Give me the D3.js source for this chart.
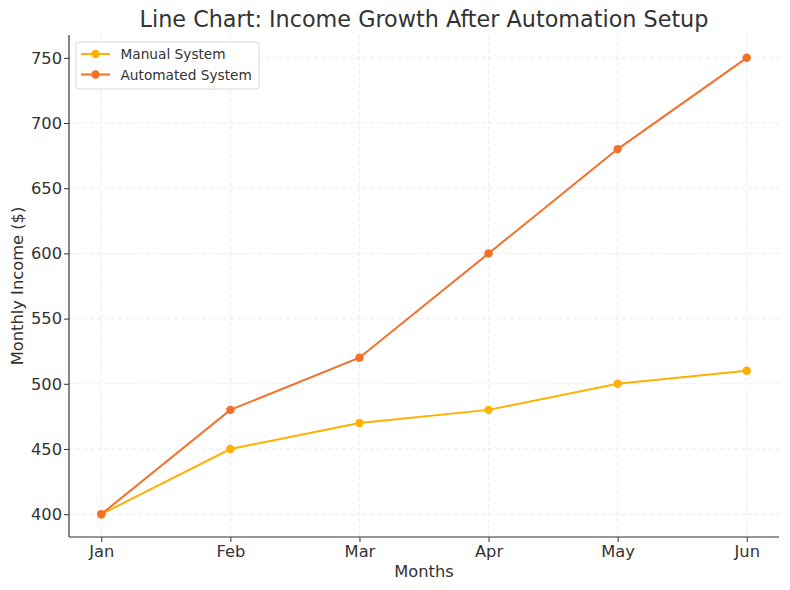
<!DOCTYPE html>
<html><head><meta charset="utf-8">
<script src="https://cdn.jsdelivr.net/npm/d3@7"></script>
<style>body{margin:0;background:#fff;} text{font-family:"DejaVu Sans",sans-serif;fill:#333;}</style>
</head><body>
<svg id="c" width="790" height="590"></svg>
<script>
const months = ["Jan","Feb","Mar","Apr","May","Jun"];
const manual = [400,450,470,480,500,510];
const automated = [400,480,520,600,680,750];
const yTicks = [400,450,500,550,600,650,700,750];
const seriesNames = ["Manual System","Automated System"];
const colors = ["#FFB000","#F4702A"];

const svg = d3.select("#c");
const L=69, R=779, T=35, B=537;
const x = d3.scaleLinear().domain([-0.25,5.25]).range([L,R]);
const y = d3.scaleLinear().domain([382.5,767.5]).range([B,T]);
const g = svg.append("g");

// grid
g.selectAll(".gx").data(months).join("line")
  .attr("x1",(d,i)=>x(i)).attr("x2",(d,i)=>x(i)).attr("y1",T).attr("y2",B)
  .attr("stroke","#e6e6e6").attr("stroke-dasharray","4,3").attr("stroke-width",0.8);
g.selectAll(".gy").data(yTicks).join("line")
  .attr("x1",L).attr("x2",R).attr("y1",d=>y(d)).attr("y2",d=>y(d))
  .attr("stroke","#e6e6e6").attr("stroke-dasharray","4,3").attr("stroke-width",0.8);

// axes
const xAxis = d3.axisBottom(x).tickValues(d3.range(months.length)).tickFormat(i=>months[i]).tickSize(5).tickPadding(3);
const yAxis = d3.axisLeft(y).tickValues(yTicks).tickSize(5).tickPadding(2);
const gx = svg.append("g").attr("transform",`translate(0,${B})`).call(xAxis);
const gy = svg.append("g").attr("transform",`translate(${L},0)`).call(yAxis);
[gx,gy].forEach(a=>{
  a.select(".domain").attr("stroke","#333").attr("stroke-width",1.2);
  a.selectAll(".tick line").attr("stroke","#333");
  a.selectAll(".tick text").attr("font-size",16.3).attr("fill","#333").style("font-family","DejaVu Sans");
});
gx.select(".domain").attr("d",`M${L},0H${R}`);
gy.select(".domain").attr("d",`M0,${B}V${T}`);

// lines
const data = [manual, automated];
const line = d3.line().x((d,i)=>x(i)).y(d=>y(d));
data.forEach((s,k)=>{
  svg.append("path").datum(s).attr("d",line).attr("fill","none")
    .attr("stroke",colors[k]).attr("stroke-width",2);
  svg.selectAll(".p"+k).data(s).join("circle")
    .attr("cx",(d,i)=>x(i)).attr("cy",d=>y(d)).attr("r",4.2).attr("fill",colors[k]);
});

// labels
svg.append("text").attr("x",(L+R)/2).attr("y",27).attr("text-anchor","middle")
  .attr("font-size",22.3).text("Line Chart: Income Growth After Automation Setup");
svg.append("text").attr("x",(L+R)/2).attr("y",577).attr("text-anchor","middle")
  .attr("font-size",16.3).text("Months");
svg.append("text").attr("transform",`translate(23,${(T+B)/2}) rotate(-90)`).attr("text-anchor","middle")
  .attr("font-size",16.3).text("Monthly Income ($)");

// legend
const lg = svg.append("g");
lg.append("rect").attr("x",76).attr("y",42).attr("width",183).attr("height",47).attr("rx",3)
  .attr("fill","#fff").attr("fill-opacity",0.8).attr("stroke","#d8d8d8");
seriesNames.forEach((n,k)=>{
  const yy = 54 + k*20.5;
  lg.append("line").attr("x1",81).attr("x2",110).attr("y1",yy).attr("y2",yy).attr("stroke",colors[k]).attr("stroke-width",2);
  lg.append("circle").attr("cx",95.5).attr("cy",yy).attr("r",4.2).attr("fill",colors[k]);
  lg.append("text").attr("x",120.5).attr("y",yy+5).attr("font-size",13.7).text(n);
});
</script>
</body></html>
